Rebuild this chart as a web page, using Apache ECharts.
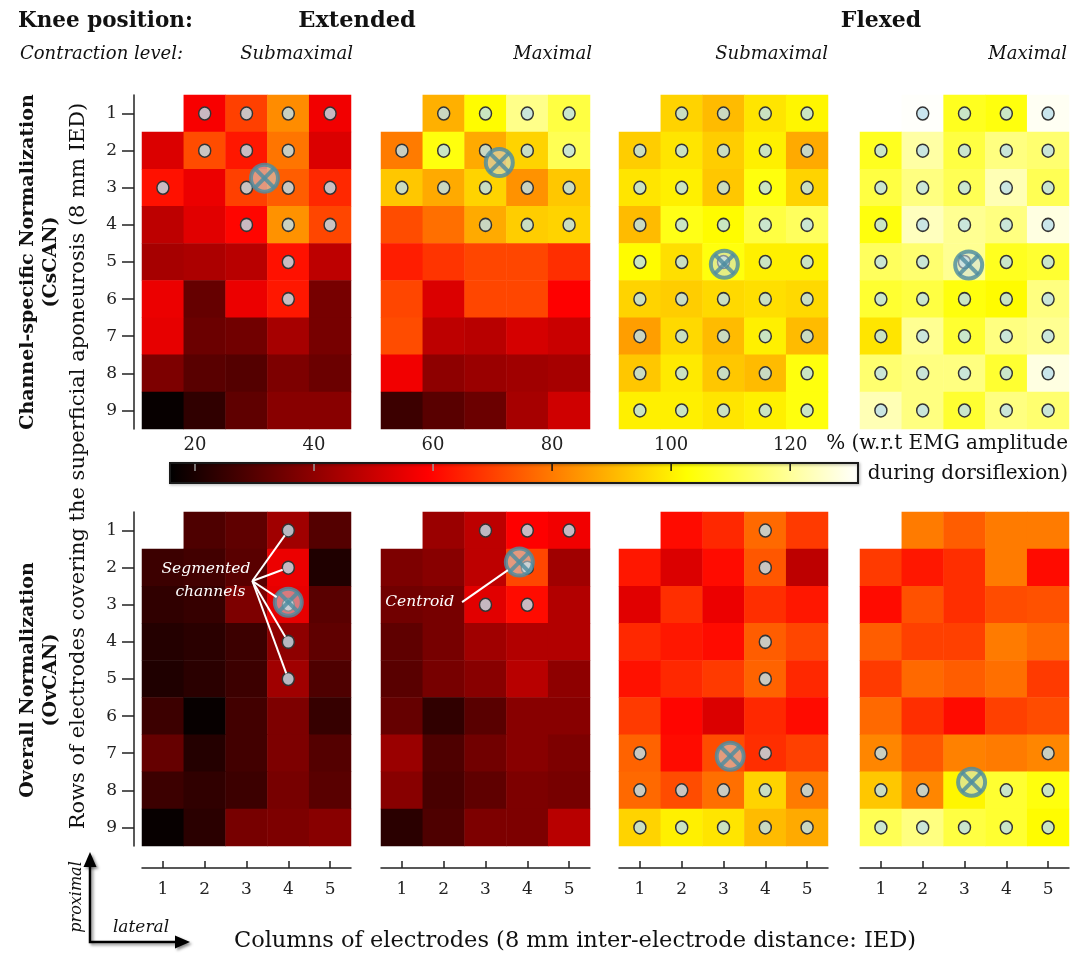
<!DOCTYPE html>
<html><head><meta charset="utf-8">
<script src="https://cdn.jsdelivr.net/npm/echarts@6/dist/echarts.min.js"></script>
<style>html,body{margin:0;padding:0;background:#fff}#c{width:1075px;height:954px}</style>
</head><body><div id="c"></div>
<script>
// ---------- data ----------
const columns = ['1','2','3','4','5'];
const rows = ['1','2','3','4','5','6','7','8','9'];
const colorbarTicks = [20, 40, 60, 80, 100, 120];
const colorbarRange = [15.8, 131.4];
const kneePositions = ['Extended', 'Flexed'];
const contractionLevels = ['Submaximal', 'Maximal', 'Submaximal', 'Maximal'];
const normalizationNames = ['Channel-specific Normalization', 'Overall Normalization'];
const normalizationAbbr = ['(CsCAN)', '(OvCAN)'];

// values (% w.r.t EMG amplitude during dorsiflexion), rows 1..9 x columns 1..5
const csExtSub = [
  [null,58,70,83,57],[53,72,63,79,53],[62,56,70,75,66],[48,54,60,84,71],[44,45,47,62,48],
  [56,33,56,63,36],[55,34,35,44,36],[37,31,30,37,34],[17,24,32,39,39]];
const csExtMax = [
  [null,89,102,118,110],[80,104,88,95,112],[93,88,95,84,93],[72,78,88,94,95],[64,68,71,71,67],
  [71,53,71,71,59],[72,48,47,52,50],[57,40,42,43,44],[26,31,34,44,51]];
const csFlexSub = [
  [null,95,91,98,101],[94,98,94,100,88],[98,100,93,104,95],[91,105,102,110,113],[102,97,104,100,100],
  [95,94,96,97,96],[86,96,91,100,91],[93,99,93,91,104],[100,100,98,100,104]];
const csFlexMax = [
  [null,131,106,104,130],[106,121,110,117,115],[110,117,112,123,112],[104,124,119,117,128],[113,115,119,106,108],
  [108,110,104,102,117],[98,119,108,117,119],[115,117,117,108,128],[123,117,108,117,115]];
const ovExtSub = [
  [null,29,32,43,30],[26,27,31,56,21],[24,25,37,55,31],[22,23,26,40,32],[21,23,26,43,29],
  [26,17,27,37,25],[33,22,27,37,30],[26,24,26,36,31],[17,23,36,37,39]];
const ovExtMax = [
  [null,42,48,59,57],[37,39,48,71,43],[35,36,54,61,46],[32,36,43,46,46],[31,36,39,47,40],
  [33,24,31,39,39],[42,29,35,39,37],[39,28,32,37,36],[23,29,37,37,47]];
const ovFlexSub = [
  [null,61,66,77,69],[63,53,61,74,48],[54,67,56,67,63],[66,63,61,75,71],[62,66,69,76,66],
  [69,60,53,66,61],[76,61,72,67,70],[77,72,78,95,80],[95,100,98,91,88]];
const ovFlexMax = [
  [null,80,75,80,80],[69,63,67,80,61],[61,73,67,72,73],[75,70,70,80,77],[69,77,75,78,69],
  [77,67,61,70,72],[82,74,81,80,82],[93,82,101,108,104],[112,117,110,108,102]];

// segmented channels: per row (1..9), list of columns
const csExtSubDots = [[2,3,4,5],[2,3,4],[1,3,4,5],[3,4,5],[4],[4],[],[],[]];
const csExtMaxDots = [[2,3,4,5],[1,2,3,4,5],[1,2,3,4,5],[3,4,5],[],[],[],[],[]];
const csFlexSubDots = [[2,3,4,5],[1,2,3,4,5],[1,2,3,4,5],[1,2,3,4,5],[1,2,3,4,5],[1,2,3,4,5],[1,2,3,4,5],[1,2,3,4,5],[1,2,3,4,5]];
const csFlexMaxDots = [[2,3,4,5],[1,2,3,4,5],[1,2,3,4,5],[1,2,3,4,5],[1,2,3,4,5],[1,2,3,4,5],[1,2,3,4,5],[1,2,3,4,5],[1,2,3,4,5]];
const ovExtSubDots = [[4],[4],[4],[4],[4],[],[],[],[]];
const ovExtMaxDots = [[3,4,5],[4],[3,4],[],[],[],[],[],[]];
const ovFlexSubDots = [[4],[4],[],[4],[4],[],[1,4],[1,2,3,4,5],[1,2,3,4,5]];
const ovFlexMaxDots = [[],[],[],[],[],[],[1,5],[1,2,4,5],[1,2,3,4,5]];

// centroids [column, row]
const csExtSubCentroid = [3.43, 2.74];
const csExtMaxCentroid = [3.33, 2.32];
const csFlexSubCentroid = [3.02, 5.06];
const csFlexMaxCentroid = [3.10, 5.08];
const ovExtSubCentroid = [4.0, 2.93];
const ovExtMaxCentroid = [3.81, 1.85];
const ovFlexSubCentroid = [3.16, 7.08];
const ovFlexMaxCentroid = [3.17, 7.78];

// ---------- build ----------
const hot = ['#000000','#550000','#aa0000','#ff0000','#ff5500','#ffaa00','#ffff00','#ffff80','#ffffff'];
const panels = [
  [csExtSub, csExtSubDots, csExtSubCentroid], [csExtMax, csExtMaxDots, csExtMaxCentroid],
  [csFlexSub, csFlexSubDots, csFlexSubCentroid], [csFlexMax, csFlexMaxDots, csFlexMaxCentroid],
  [ovExtSub, ovExtSubDots, ovExtSubCentroid], [ovExtMax, ovExtMaxDots, ovExtMaxCentroid],
  [ovFlexSub, ovFlexSubDots, ovFlexSubCentroid], [ovFlexMax, ovFlexMaxDots, ovFlexMaxCentroid]
];
const FONT = 'DejaVu Serif';
const PL = [142, 381, 619, 860], PW = 209, PT = [95, 512], PH = 334;

const grid = [], xAxis = [], yAxis = [], series = [], heatIdx = [];
panels.forEach((p, i) => {
  const col = i % 4, row = Math.floor(i / 4);
  grid.push({left: PL[col], top: PT[row], width: PW, height: PH});
  xAxis.push({
    type: 'category', gridIndex: i, data: columns, show: row === 1, position: 'bottom', offset: 22,
    axisLine: {show: true, lineStyle: {color: '#222', width: 1.5}},
    axisTick: {show: true, inside: true, length: 7, alignWithLabel: true, lineStyle: {color: '#222', width: 1.5}},
    axisLabel: {fontFamily: FONT, fontSize: 17, color: '#222', margin: 13},
    splitLine: {show: false}
  });
  xAxis.push({type: 'value', gridIndex: i, min: 0.5, max: 5.5, show: false});
  yAxis.push({
    type: 'category', gridIndex: i, data: rows, inverse: true, show: col === 0, position: 'left', offset: 8,
    axisLine: {show: true, lineStyle: {color: '#222', width: 1.5}},
    axisTick: {show: true, inside: false, length: 12, alignWithLabel: true, lineStyle: {color: '#222', width: 1.5}},
    axisLabel: {fontFamily: FONT, fontSize: 17, color: '#222', margin: 17},
    splitLine: {show: false}
  });
  yAxis.push({type: 'value', gridIndex: i, min: 0.5, max: 9.5, inverse: true, show: false});

  const cells = [];
  p[0].forEach((r, ri) => r.forEach((v, ci) => { if (v !== null) cells.push([ci, ri, v]); }));
  heatIdx.push(series.length);
  series.push({type: 'heatmap', xAxisIndex: 2 * i, yAxisIndex: 2 * i, data: cells, progressive: 0,
    emphasis: {disabled: true}, itemStyle: {borderWidth: 0}});
  const dots = [];
  p[1].forEach((cs, ri) => cs.forEach(c => dots.push([c - 1, ri])));
  series.push({type: 'scatter', xAxisIndex: 2 * i, yAxisIndex: 2 * i, data: dots, symbol: 'circle',
    symbolSize: [12, 13], z: 3, silent: true,
    itemStyle: {color: 'rgba(190,224,236,0.82)', borderColor: '#333', borderWidth: 1.5, opacity: 1}});
  series.push({type: 'custom', xAxisIndex: 2 * i + 1, yAxisIndex: 2 * i + 1, data: [p[2]], z: 4, silent: true,
    renderItem: (params, api) => {
      const c = api.coord([api.value(0), api.value(1)]);
      const r = 13.5, d = r * 0.72;
      const st = 'rgba(78,140,160,0.82)';
      return {type: 'group', children: [
        {type: 'circle', shape: {cx: c[0], cy: c[1], r: r}, style: {fill: 'rgba(205,222,228,0.55)', stroke: st, lineWidth: 4}},
        {type: 'line', shape: {x1: c[0] - d, y1: c[1] - d, x2: c[0] + d, y2: c[1] + d}, style: {stroke: st, lineWidth: 4}},
        {type: 'line', shape: {x1: c[0] - d, y1: c[1] + d, x2: c[0] + d, y2: c[1] - d}, style: {stroke: st, lineWidth: 4}}
      ]};
    }});
});

// colorbar
grid.push({left: 170, top: 463, width: 688, height: 20});
xAxis.push({type: 'value', gridIndex: 8, min: colorbarRange[0], max: colorbarRange[1], position: 'top',
  axisLine: {show: false}, splitLine: {show: false}, axisTick: {show: false},
  axisLabel: {customValues: colorbarTicks, fontFamily: FONT, fontSize: 18, color: '#222', margin: 9}});
yAxis.push({type: 'value', gridIndex: 8, min: 0, max: 1, show: false});
const gradStops = hot.map((c, k) => ({offset: k / (hot.length - 1), color: c}));
series.push({type: 'custom', xAxisIndex: 16, yAxisIndex: 16, data: [colorbarRange], silent: true,
  encode: {x: [0, 1]},
  renderItem: (params, api) => {
    const a = api.coord([api.value(0), 0]), b = api.coord([api.value(1), 1]);
    return {type: 'rect', shape: {x: a[0], y: b[1], width: b[0] - a[0], height: a[1] - b[1]},
      style: {fill: new echarts.graphic.LinearGradient(0, 0, 1, 0, gradStops), stroke: '#1a1a1a', lineWidth: 2,
        shadowBlur: 3, shadowColor: 'rgba(0,0,0,0.35)', shadowOffsetX: 1, shadowOffsetY: 1}};
  }});
series.push({type: 'custom', xAxisIndex: 16, yAxisIndex: 16, data: colorbarTicks.map(v => [v]), silent: true, z: 5,
  encode: {x: 0},
  renderItem: (params, api) => {
    const v = api.value(0), a = api.coord([v, 1]);
    return {type: 'line', shape: {x1: a[0], y1: a[1] + 1, x2: a[0], y2: a[1] + 8},
      style: {stroke: v < 70 ? '#9a9a9a' : '#111', lineWidth: 1.5}};
  }});

// ---------- static texts ----------
const txt = (x, y, text, o) => Object.assign({type: 'text', x: x, y: y, silent: true,
  style: Object.assign({text: text, fontFamily: FONT, fontSize: 18, fill: '#111', align: 'center', verticalAlign: 'middle'}, o || {})});
const rot = (x, y, text, o) => Object.assign(txt(x, y, text, o), {rotation: Math.PI / 2});

const staticG = [
  txt(18, 21, 'Knee position:', {fontWeight: 'bold', fontSize: 21.5, align: 'left'}),
  txt(357, 21, kneePositions[0], {fontWeight: 'bold', fontSize: 22.5}),
  txt(881, 21, kneePositions[1], {fontWeight: 'bold', fontSize: 22}),
  txt(20, 54, 'Contraction level:', {fontStyle: 'italic', fontSize: 18, align: 'left'}),
  txt(PL[0] + PW + 2, 54, contractionLevels[0], {fontStyle: 'italic', fontSize: 18, align: 'right'}),
  txt(PL[1] + PW + 2, 54, contractionLevels[1], {fontStyle: 'italic', fontSize: 18, align: 'right'}),
  txt(PL[2] + PW, 54, contractionLevels[2], {fontStyle: 'italic', fontSize: 18, align: 'right'}),
  txt(PL[3] + PW - 2, 54, contractionLevels[3], {fontStyle: 'italic', fontSize: 18, align: 'right'}),
  rot(28, 262, normalizationNames[0], {fontWeight: 'bold', fontSize: 19}),
  rot(51, 262, normalizationAbbr[0], {fontWeight: 'bold', fontSize: 19}),
  rot(28, 680, normalizationNames[1], {fontWeight: 'bold', fontSize: 19}),
  rot(51, 680, normalizationAbbr[1], {fontWeight: 'bold', fontSize: 19}),
  rot(79, 466, 'Rows of electrodes covering the superficial aponeurosis (8 mm IED)', {fontSize: 21}),
  txt(1068, 444, '% (w.r.t EMG amplitude', {fontSize: 20, align: 'right'}),
  txt(1068, 474, 'during dorsiflexion)', {fontSize: 20, align: 'right'}),
  txt(575, 941, 'Columns of electrodes (8 mm inter-electrode distance: IED)', {fontSize: 22.5}),
  rot(77, 897, 'proximal', {fontStyle: 'italic', fontSize: 16}),
  txt(141, 928, 'lateral', {fontStyle: 'italic', fontSize: 17}),
  {type: 'polyline', silent: true, shape: {points: [[90, 864], [90, 942], [178, 942]]},
    style: {stroke: '#000', lineWidth: 2.5, fill: null, shadowBlur: 3, shadowColor: 'rgba(0,0,0,0.45)', shadowOffsetX: 2, shadowOffsetY: 2}},
  {type: 'polygon', silent: true, shape: {points: [[90, 852], [83.5, 867], [96.5, 867]]},
    style: {fill: '#000', shadowBlur: 3, shadowColor: 'rgba(0,0,0,0.45)', shadowOffsetX: 2, shadowOffsetY: 2}},
  {type: 'polygon', silent: true, shape: {points: [[190, 942], [175, 935.5], [175, 948.5]]},
    style: {fill: '#000', shadowBlur: 3, shadowColor: 'rgba(0,0,0,0.45)', shadowOffsetX: 2, shadowOffsetY: 2}}
];

const chart = echarts.init(document.getElementById('c'), null, {renderer: 'canvas'});
chart.setOption({
  animation: false,
  backgroundColor: '#fff',
  grid: grid, xAxis: xAxis, yAxis: yAxis, series: series,
  visualMap: {type: 'continuous', show: false, min: colorbarRange[0], max: colorbarRange[1],
    seriesIndex: heatIdx, inRange: {color: hot}},
  graphic: staticG
});

// ---------- annotations positioned through the panels' own scales ----------
const px = (panel, pt) => chart.convertToPixel({xAxisIndex: 2 * panel + 1, yAxisIndex: 2 * panel + 1}, pt);
const shorten = (from, to, by) => {
  const dx = to[0] - from[0], dy = to[1] - from[1], L = Math.hypot(dx, dy);
  return [to[0] - dx / L * by, to[1] - dy / L * by];
};
const ann = [];
const hub = px(4, [3.14, 2.36]);
ovExtSubDots.forEach((cs, ri) => cs.forEach(c => {
  const target = px(4, [c, ri + 1]);
  const end = shorten(hub, target, (ri === 2 ? 14 : 6));
  ann.push({type: 'line', silent: true, z: 10, shape: {x1: hub[0], y1: hub[1], x2: end[0], y2: end[1]},
    style: {stroke: '#fff', lineWidth: 2}});
}));
ann.push(txt(hub[0] - 2, hub[1] - 12, 'Segmented', {fill: '#fff', fontStyle: 'italic', fontSize: 15.5, align: 'right'}));
ann.push(txt(hub[0] - 7, hub[1] + 11, 'channels', {fill: '#fff', fontStyle: 'italic', fontSize: 15.5, align: 'right'}));
const cStart = px(5, [2.44, 2.93]);
const cEnd = shorten(cStart, px(5, ovExtMaxCentroid), 14);
ann.push({type: 'line', silent: true, z: 10, shape: {x1: cStart[0], y1: cStart[1], x2: cEnd[0], y2: cEnd[1]},
  style: {stroke: '#fff', lineWidth: 2}});
ann.push(txt(cStart[0] - 8, cStart[1], 'Centroid', {fill: '#fff', fontStyle: 'italic', fontSize: 15.5, align: 'right'}));
chart.setOption({graphic: staticG.concat(ann.map(e => Object.assign({z: 10}, e)))});
</script>
</body></html>
